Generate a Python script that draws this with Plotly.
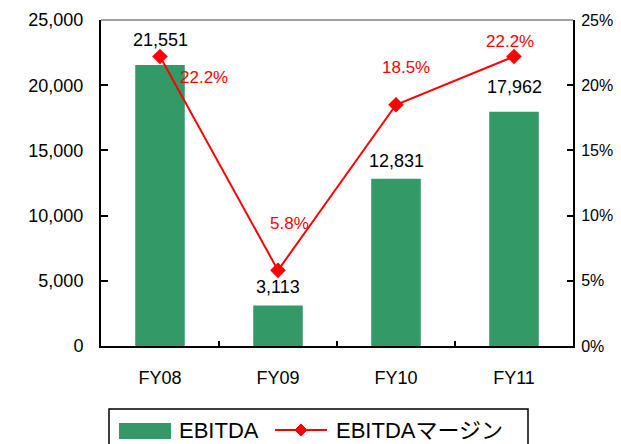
import plotly.graph_objects as go

categories = ["FY08", "FY09", "FY10", "FY11"]
ebitda = [21551, 3113, 12831, 17962]
margin = [22.2, 5.8, 18.5, 22.2]
y_ticks = [0, 5000, 10000, 15000, 20000, 25000]
y2_ticks = [0, 5, 10, 15, 20, 25]
y2_ticktext = ["0%", "5%", "10%", "15%", "20%", "25%"]
series_names = ["EBITDA", "EBITDAマージン"]

GREEN = "#339966"
RED = "#FF0000"
FONT = "Liberation Sans, Arial, Noto Sans CJK JP, sans-serif"

# label offsets (pixels) - styling
bar_label_shift = [25, 18, 18, 25]
pct_label_dx = [44, 11, 10, -4]
pct_label_dy = [-21, 47, 37, 15]

OFF = 8  # page body margin
W, H = 621 - OFF, 444 - OFF
# target screen positions of plot area
SL, SR, ST, SB = 101, 573, 20, 346
ML, MT = SL - OFF, ST - OFF
MR, MB = W - (SR - OFF), H - (SB - OFF)
PW, PH = SR - SL, SB - ST


def px(x):
    return (x - SL) / PW


def py(y):
    return (SB - y) / PH


fig = go.Figure()
fig.add_trace(go.Bar(
    x=categories, y=ebitda, name=series_names[0],
    marker=dict(color=GREEN, line=dict(width=0)),
    width=0.42, yaxis="y", showlegend=False,
))
fig.add_trace(go.Scatter(
    x=categories, y=margin, name=series_names[1], yaxis="y2",
    mode="lines+markers",
    line=dict(color=RED, width=2),
    marker=dict(symbol="diamond", size=12, color=RED),
    showlegend=False,
))

annotations = []
for c, v, s in zip(categories, ebitda, bar_label_shift):
    annotations.append(dict(
        x=c, y=v, xref="x", yref="y", text=f"{v:,}", showarrow=False,
        yshift=s, font=dict(size=18, color="black", family=FONT),
    ))
for c, v, dx, dy in zip(categories, margin, pct_label_dx, pct_label_dy):
    annotations.append(dict(
        x=c, y=v, xref="x", yref="y2", text=f"{v:.1f}%", showarrow=False,
        xshift=dx, yshift=dy, font=dict(size=17, color=RED, family=FONT),
    ))

# custom legend (layout decoration)
leg_y = py(430)
annotations.append(dict(x=px(177), y=leg_y, xref="paper", yref="paper",
                        text=series_names[0], showarrow=False, xanchor="left",
                        yanchor="middle", font=dict(size=22, family=FONT)))
annotations.append(dict(x=px(334), y=leg_y, xref="paper", yref="paper",
                        text=series_names[1], showarrow=False, xanchor="left",
                        yanchor="middle", font=dict(size=22, family=FONT)))

shapes = [
    dict(type="line", xref="paper", yref="paper", x0=0, x1=1, y0=1, y1=1,
         line=dict(color="#808080", width=1.5)),
    dict(type="rect", xref="paper", yref="paper", x0=px(109), x1=px(528),
         y0=py(409), y1=py(470), line=dict(color="black", width=1.5),
         fillcolor="rgba(0,0,0,0)"),
    dict(type="rect", xref="paper", yref="paper", x0=px(119), x1=px(171),
         y0=py(423), y1=py(439), line=dict(width=0), fillcolor=GREEN),
    dict(type="line", xref="paper", yref="paper", x0=px(275), x1=px(327),
         y0=leg_y, y1=leg_y, line=dict(color=RED, width=2)),
    dict(type="path", xref="paper", yref="paper", xsizemode="pixel",
         ysizemode="pixel", xanchor=px(301), yanchor=leg_y,
         path="M -6 0 L 0 6 L 6 0 L 0 -6 Z", fillcolor=RED,
         line=dict(color=RED, width=1)),
]

fig.update_layout(
    width=W, height=H,
    margin=dict(l=ML, r=MR, t=MT, b=MB, autoexpand=False),
    paper_bgcolor="white", plot_bgcolor="white",
    font=dict(family=FONT, size=18, color="black"),
    showlegend=False,
    xaxis=dict(
        showline=True, linecolor="black", linewidth=2,
        ticks="inside", ticklen=5, tickcolor="black", tickwidth=1.5,
        tickson="boundaries", ticklabelstandoff=14,
        showgrid=False, zeroline=False, automargin=False,
        tickfont=dict(size=18),
    ),
    yaxis=dict(
        range=[0, 25000], tickvals=y_ticks, tickformat=",d",
        showline=True, linecolor="black", linewidth=2,
        ticks="inside", ticklen=7, tickcolor="black", tickwidth=1.5,
        showgrid=False, zeroline=False, ticklabelstandoff=12, automargin=False,
        tickfont=dict(size=18),
    ),
    yaxis2=dict(
        range=[0, 25], tickvals=y2_ticks, ticktext=y2_ticktext,
        overlaying="y", side="right",
        showline=True, linecolor="black", linewidth=2,
        ticks="inside", ticklen=6, tickcolor="black", tickwidth=1.5,
        showgrid=False, zeroline=False, ticklabelstandoff=3, automargin=False,
        tickfont=dict(size=16),
    ),
    annotations=annotations,
    shapes=shapes,
)

fig.write_html("out.html")
